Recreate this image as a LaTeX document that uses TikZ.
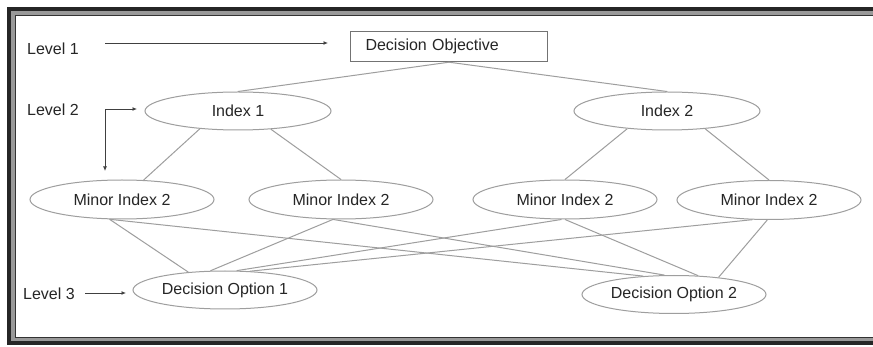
\documentclass[tikz,border=0pt]{standalone}
\usepackage{fontspec}
\setmainfont{Liberation Sans}
\usetikzlibrary{shapes.geometric}
\usetikzlibrary{arrows.meta}
\definecolor{linegray}{rgb}{0.62,0.62,0.62}
\definecolor{boxgray}{rgb}{0.45,0.45,0.45}
\definecolor{textgray}{rgb}{0.15,0.15,0.15}
\tikzset{
	objbox/.style={rectangle, draw=boxgray, line width=1.4pt, text width=167pt, align=left, inner xsep=15pt, minimum height=30pt, inner ysep=0pt, text=textgray},
	idx/.style={ellipse, draw=linegray, line width=1pt, minimum width=186pt, minimum height=38pt, inner sep=0pt, text=textgray},
	minoridx/.style={ellipse, draw=linegray, line width=1pt, minimum width=184pt, minimum height=39pt, inner sep=0pt, text=textgray},
	option/.style={ellipse, draw=linegray, line width=1pt, minimum width=184pt, minimum height=38pt, inner sep=0pt, text=textgray},
	lvl/.style={anchor=west, inner sep=0pt, text=textgray},
	lvlarrow/.style={draw=black!75, line width=0.9pt, -{Latex[length=4.5pt,width=4pt]}},
	conn/.style={draw=linegray, line width=1pt}
}

\begin{document}
\begin{tikzpicture}[x=1pt, y=-1pt, font=\fontsize{16}{18}\selectfont]
	\clip (0,0) rectangle (873,347);
	\fill[white] (0,0) rectangle (873,347);
	
	% frame
	\draw[line width=4pt, black!85] (9,9) rectangle (900,343);
	\draw[line width=3.5pt, black!40] (12.8,12.8) rectangle (900,339.5);
	\draw[line width=1.2pt, black!80] (15.6,15.4) rectangle (900,337.6);
	
	% Level 1
	\node[objbox] (obj) at (449,46.5) {Decision Objective};
	\node[lvl] (lv1) at (27,49) {Level 1};
	\coordinate (lv1from) at (105,43);
	\coordinate (lv1to) at (328,43);
	\draw[lvlarrow] (lv1from) -- (lv1to);
	
	% Level 2
	\node[idx] (idxA) at (238,111) {Index 1};
	\node[idx] (idxB) at (667,111) {Index 2};
	\node[lvl] (lv2) at (27,110) {Level 2};
	\coordinate (lv2top) at (137,109);
	\coordinate (lv2bot) at (105,171);
	\draw[lvlarrow, {Latex[length=4.5pt,width=4pt]}-{Latex[length=4.5pt,width=4pt]}] (lv2bot) |- (lv2top);
	
	% minor indices
	\node[minoridx] (minA) at (122,199.5) {Minor Index 2};
	\node[minoridx] (minB) at (341,199.5) {Minor Index 2};
	\node[minoridx] (minC) at (565,199.5) {Minor Index 2};
	\node[minoridx] (minD) at (769,200) {Minor Index 2};
	
	% Level 3
	\node[option] (optA) at (225,290) {Decision Option 1};
	\node[option] (optB) at (674,294.5) {Decision Option 2};
	\node[lvl] (lv3) at (23,294) {Level 3};
	\coordinate (lv3from) at (85,293);
	\coordinate (lv3to) at (126,293);
	\draw[lvlarrow] (lv3from) -- (lv3to);
	
	% objective to indices
	\draw[conn] (obj.south) -- (idxA.north);
	\draw[conn] (obj.south) -- (idxB.north);
	
	% indices to minor indices
	\draw[conn] (idxA.-155) -- (minA.42);
	\draw[conn] (idxA.-29) -- (minB.north);
	\draw[conn] (idxB.-156) -- (minC.north);
	\draw[conn] (idxB.-25) -- (minD.north);
	
	% minor indices to options
	\draw[conn] (minA.-122) -- (optA.154);
	\draw[conn] (minA.-122) -- (optB.149);
	\draw[conn] (minB.-112) -- (optA.127);
	\draw[conn] (minB.-112) -- (optB.116);
	\draw[conn] (minC.-100) -- (optA.59);
	\draw[conn] (minC.south) -- (optB.38);
	\draw[conn] (minD.-130) -- (optA.37);
	\draw[conn] (minD.-95) -- (optB.21);
\end{tikzpicture}
\end{document}
